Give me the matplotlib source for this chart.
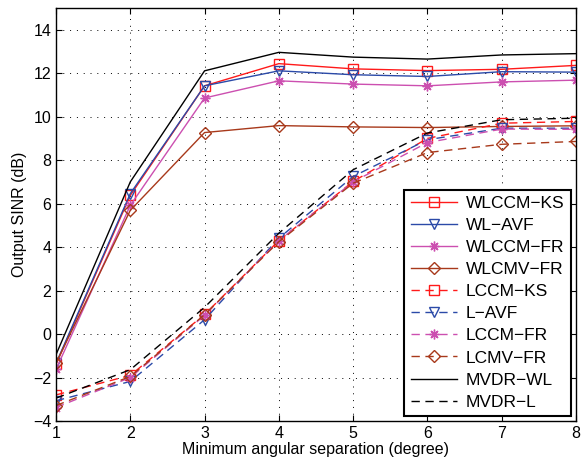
import matplotlib
matplotlib.use('Agg')
import matplotlib.pyplot as plt

plt.rcParams['font.family'] = ['Liberation Sans', 'DejaVu Sans']

sep = [1, 2, 3, 4, 5, 6, 7, 8]

# solid (widely linear) curves
wlccm_ks = [-1.4, 6.38, 11.42, 12.44, 12.2, 12.12, 12.18, 12.36]
wl_avf = [-1.35, 6.46, 11.42, 12.11, 11.93, 11.85, 12.07, 12.05]
wlccm_fr = [-1.63, 5.92, 10.86, 11.65, 11.5, 11.42, 11.6, 11.68]
wlcmv_fr = [-1.34, 5.69, 9.27, 9.59, 9.53, 9.5, 9.55, 9.58]

# dashed (linear) curves
lccm_ks = [-2.8, -1.9, 0.9, 4.3, 7.02, 9.0, 9.7, 9.78]
l_avf = [-3.07, -2.18, 0.66, 4.41, 7.25, 8.94, 9.47, 9.47]
lccm_fr = [-3.38, -2.0, 0.86, 4.3, 7.0, 8.81, 9.43, 9.42]
lcmv_fr = [-3.29, -1.95, 0.89, 4.25, 6.94, 8.35, 8.73, 8.86]

mvdr_wl = [-0.95, 7.0, 12.11, 12.96, 12.74, 12.65, 12.84, 12.9]
mvdr_l = [-2.95, -1.64, 1.23, 4.64, 7.56, 9.25, 9.86, 9.93]

red = '#ff1a1a'
blue = '#2b4aa8'
mag = '#cc4fb0'
brown = '#a8391b'

star = (8, 2, 0)
dash = (6, 4)

fig = plt.figure(figsize=(5.82, 4.62), dpi=100)
ax = fig.add_axes([56 / 582, 1 - 421 / 462, 520 / 582, 413 / 462])

kw = dict(markersize=7, markerfacecolor='none', linewidth=1.0)
ax.plot(sep, wlccm_ks, color=red, marker='s', label='WLCCM\u2212KS', **kw)
ax.plot(sep, wl_avf, color=blue, marker='v', label='WL\u2212AVF', **kw)
ax.plot(sep, wlccm_fr, color=mag, marker=star, label='WLCCM\u2212FR', **kw)
ax.plot(sep, wlcmv_fr, color=brown, marker='D', label='WLCMV\u2212FR', **dict(kw, markersize=6))
ax.plot(sep, lccm_ks, color=red, marker='s', dashes=dash, label='LCCM\u2212KS', **kw)
ax.plot(sep, l_avf, color=blue, marker='v', dashes=dash, label='L\u2212AVF', **kw)
ax.plot(sep, lccm_fr, color=mag, marker=star, dashes=dash, label='LCCM\u2212FR', **kw)
ax.plot(sep, lcmv_fr, color=brown, marker='D', dashes=dash, label='LCMV\u2212FR', **dict(kw, markersize=6))
ax.plot(sep, mvdr_wl, color='black', linewidth=1.0, label='MVDR\u2212WL')
ax.plot(sep, mvdr_l, color='black', linewidth=1.0, dashes=dash, label='MVDR\u2212L')

ax.set_xlim(1, 8)
ax.set_ylim(-4, 15)
ax.set_xticks(range(1, 9))
ax.set_yticks(range(-4, 15, 2))
ax.set_yticklabels([str(v).replace('-', '\u2212') for v in range(-4, 15, 2)])
ax.grid(True, color='black', linestyle=(0, (1, 6)), linewidth=0.7)
ax.tick_params(direction='in', top=True, right=True, labelsize=11.5, length=4)
for s in ax.spines.values():
    s.set_linewidth(1.0)

ax.set_xlabel('Minimum angular separation (degree)', fontsize=11.5, labelpad=1)
ax.set_ylabel('Output SINR (dB)', fontsize=11.5, labelpad=4)

leg = ax.legend(loc='lower right', fontsize=12.5, fancybox=False, framealpha=1,
                edgecolor='black', handlelength=2.7, borderaxespad=0.3,
                labelspacing=0.4, handletextpad=0.5, borderpad=0.35)
leg.get_frame().set_linewidth(1.5)

fig.savefig('out.png', dpi=100)
